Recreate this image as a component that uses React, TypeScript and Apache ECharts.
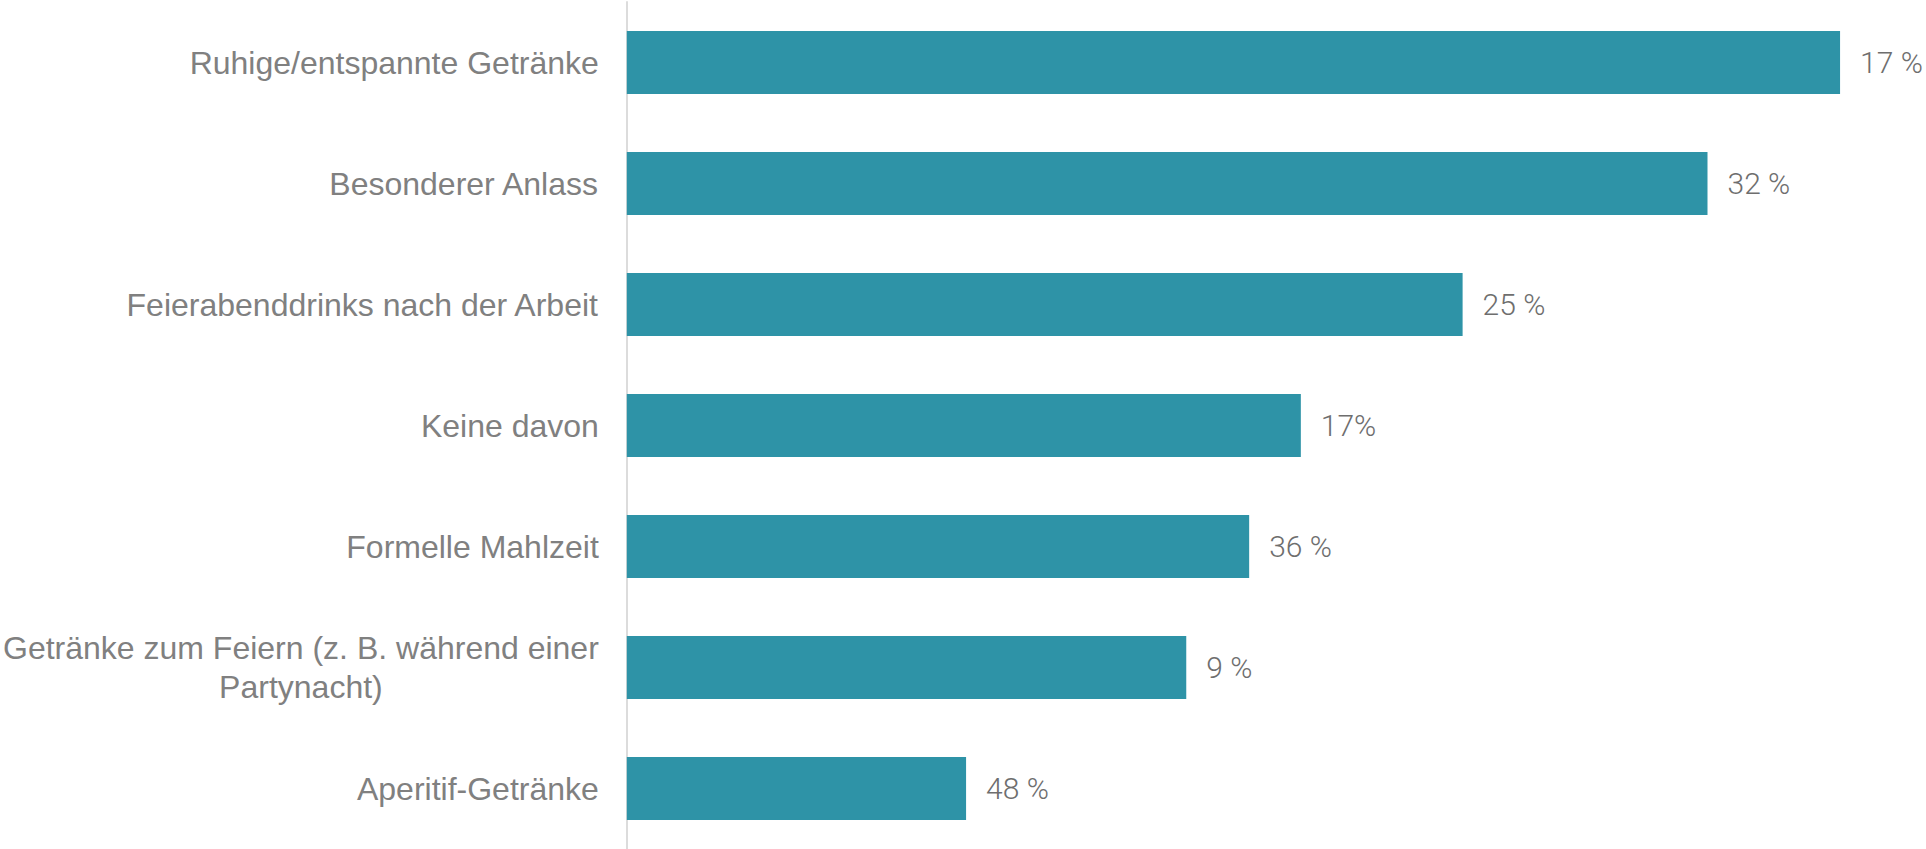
import React, { useEffect, useRef } from "react";
import * as echarts from "echarts";

const categories: string[] = [
  "Ruhige/entspannte Getränke",
  "Besonderer Anlass",
  "Feierabenddrinks nach der Arbeit",
  "Keine davon",
  "Formelle Mahlzeit",
  "Getränke zum Feiern (z. B. während einer\nPartynacht)",
  "Aperitif-Getränke",
];

// bar lengths as drawn in the reference
const values: number[] = [54.0, 48.1, 37.2, 30.0, 27.7, 24.9, 15.1];

// value labels exactly as printed in the reference
const valueLabels: string[] = ["17 %", "32 %", "25 %", "17%", "36 %", "9 %", "48 %"];

const axisMax = 56;

export default function App() {
  const ref = useRef<HTMLDivElement>(null);
  useEffect(() => {
    if (!ref.current) return;
    const chart = echarts.init(ref.current, undefined, { renderer: "svg" });
    chart.setOption({
      animation: false,
      backgroundColor: "#ffffff",
      grid: { left: 625, right: 41, top: 2, height: 849, containLabel: false },
      xAxis: {
        type: "value",
        min: 0,
        max: axisMax,
        show: false,
        splitLine: { show: false },
      },
      yAxis: {
        type: "category",
        data: categories,
        inverse: true,
        axisLine: { show: true, lineStyle: { color: "#dcdcdc", width: 2 } },
        axisTick: { show: false },
        splitLine: { show: false },
        axisLabel: {
          margin: 28,
          formatter: (v: string) =>
            v
              .split("\n")
              .map((s) => `{c|${s}}`)
              .join("\n"),
          rich: {
            c: {
              align: "center",
              fontSize: 32,
              lineHeight: 39,
              color: "#808080",
              fontFamily: "'Liberation Sans', Arial, sans-serif",
            },
          },
        },
      },
      series: [
        {
          type: "bar",
          data: values,
          barWidth: 63,
          itemStyle: { color: "#2E93A7" },
          label: {
            show: true,
            position: "right",
            distance: 20,
            formatter: (p: any) => valueLabels[p.dataIndex],
            fontSize: 30,
            fontWeight: 300,
            color: "#6e6e6e",
            fontFamily: "Roboto, 'Noto Sans', sans-serif",
          },
        },
      ],
    });
    return () => chart.dispose();
  }, []);
  return (
    <div
      ref={ref}
      style={{ position: "fixed", left: 0, top: 0, width: 1926, height: 849, background: "#fff" }}
    />
  );
}
